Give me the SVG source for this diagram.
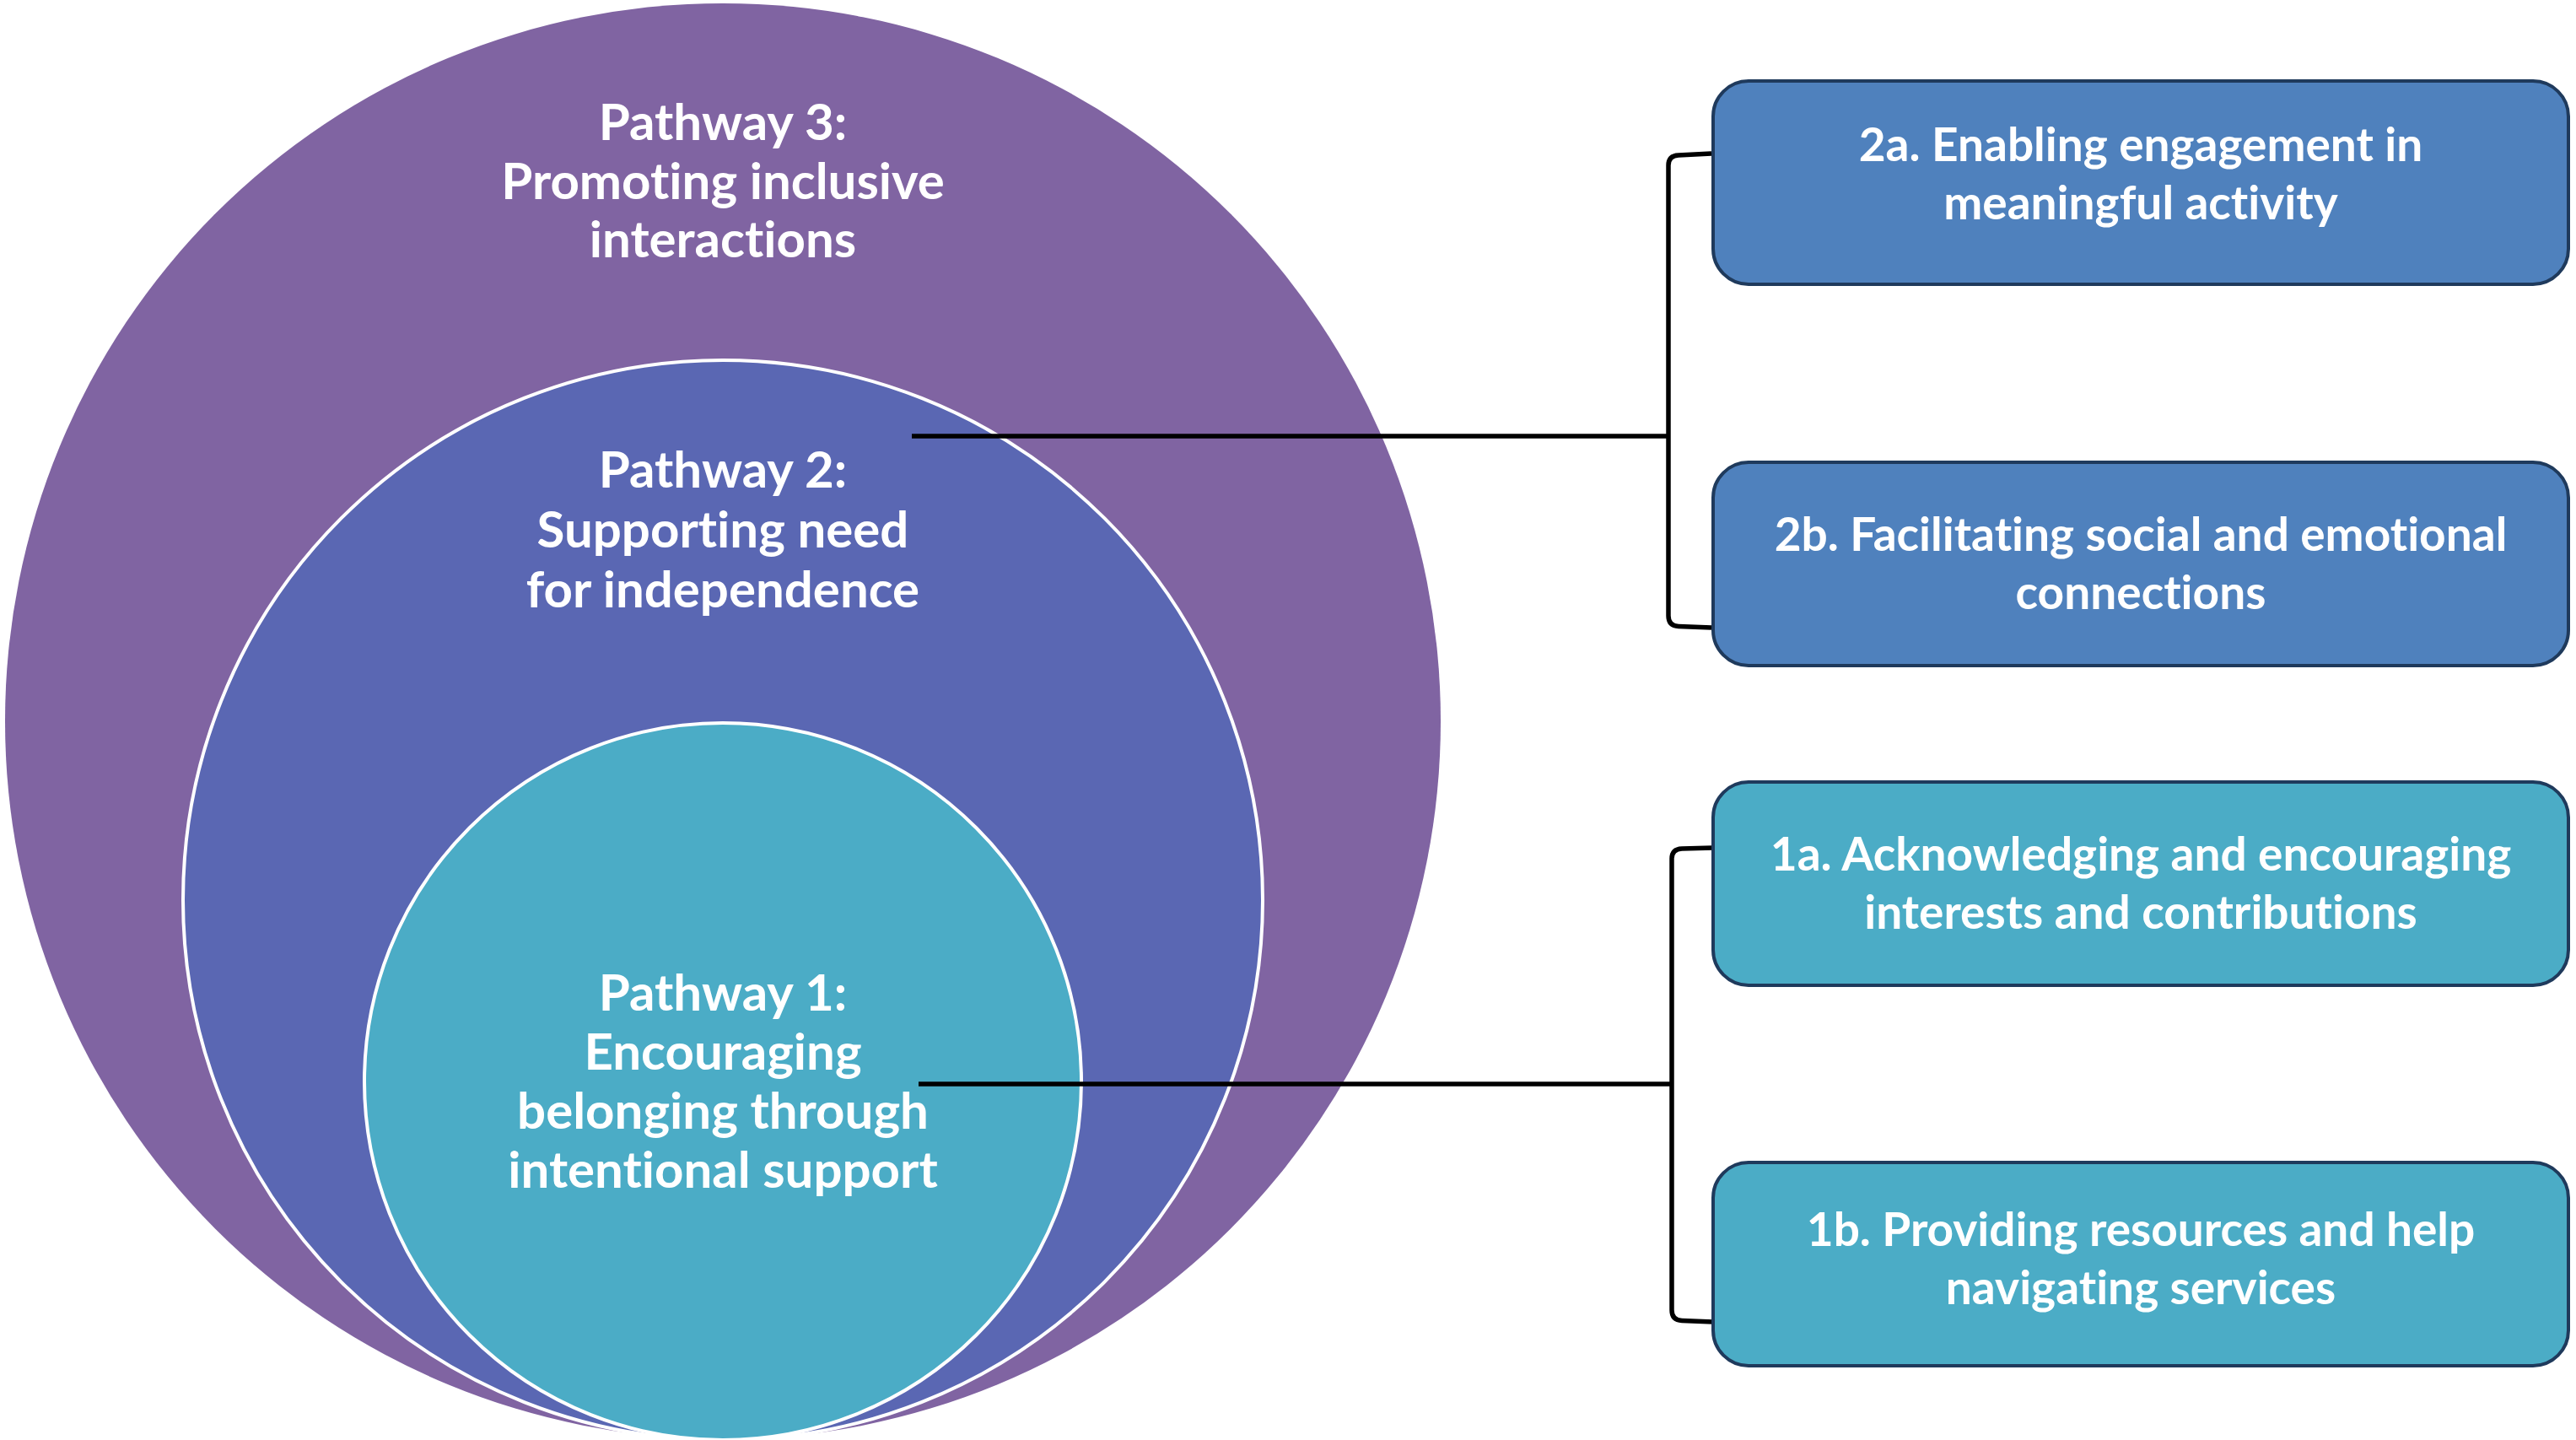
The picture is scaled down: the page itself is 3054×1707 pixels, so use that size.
<svg xmlns="http://www.w3.org/2000/svg" width="3054" height="1707" viewBox="0 0 3054 1707">
<style>
.t{font-family:Lato,"Liberation Sans",sans-serif;font-weight:700;fill:#ffffff;text-anchor:middle;font-variant-ligatures:none}
.pw{font-size:60px}
.bx{font-size:55px}
.box{stroke:#1F3A5C;stroke-width:4}
.b2{fill:#4F81BD}
.b1{fill:#4BACC6}
.con{fill:none;stroke:#000000;stroke-width:5.5;stroke-linejoin:round}
</style>
<rect width="3054" height="1707" fill="#ffffff"/>
<g id="pathway3">
<circle cx="857" cy="855" r="851" fill="#8064A2"/>
<text class="t pw" x="857" y="166">Pathway 3:</text>
<text class="t pw" x="857" y="236">Promoting inclusive</text>
<text class="t pw" x="857" y="305">interactions</text>
</g>
<g id="pathway2">
<circle cx="857" cy="1067" r="640" fill="#5A67B3" stroke="#ffffff" stroke-width="4"/>
<text class="t pw" x="857" y="578">Pathway 2:</text>
<text class="t pw" x="857" y="649">Supporting need</text>
<text class="t pw" x="857" y="720">for independence</text>
</g>
<g id="pathway1">
<circle cx="857" cy="1282" r="425" fill="#4BACC6" stroke="#ffffff" stroke-width="4"/>
<text class="t pw" x="857" y="1198">Pathway 1:</text>
<text class="t pw" x="857" y="1268">Encouraging</text>
<text class="t pw" x="857" y="1338">belonging through</text>
<text class="t pw" x="857" y="1408">intentional support</text>
</g>
<g id="connectors">
<path class="con" d="M1081 517 L1978 517"/>
<path class="con" d="M2029 182 L1990 184 Q1978 184.5 1978 196 L1978 730 Q1978 742 1990 742.5 L2029 744"/>
<path class="con" d="M1089 1285 L1982 1285"/>
<path class="con" d="M2031 1005 L1994 1006 Q1982 1006.5 1982 1018 L1982 1553 Q1982 1565 1994 1565.5 L2031 1567"/>
</g>
<g id="box2a">
<rect class="box b2" x="2031" y="96" width="1014" height="241" rx="42"/>
<text class="t bx" x="2538" y="191">2a. Enabling engagement in</text>
<text class="t bx" x="2538" y="260">meaningful activity</text>
</g>
<g id="box2b">
<rect class="box b2" x="2031" y="548" width="1014" height="241" rx="42"/>
<text class="t bx" x="2538" y="653">2b. Facilitating social and emotional</text>
<text class="t bx" x="2538" y="722">connections</text>
</g>
<g id="box1a">
<rect class="box b1" x="2031" y="927" width="1014" height="241" rx="42"/>
<text class="t bx" x="2538" y="1032">1a. Acknowledging and encouraging</text>
<text class="t bx" x="2538" y="1101">interests and contributions</text>
</g>
<g id="box1b">
<rect class="box b1" x="2031" y="1378" width="1014" height="241" rx="42"/>
<text class="t bx" x="2538" y="1477">1b. Providing resources and help</text>
<text class="t bx" x="2538" y="1546">navigating services</text>
</g>
</svg>
